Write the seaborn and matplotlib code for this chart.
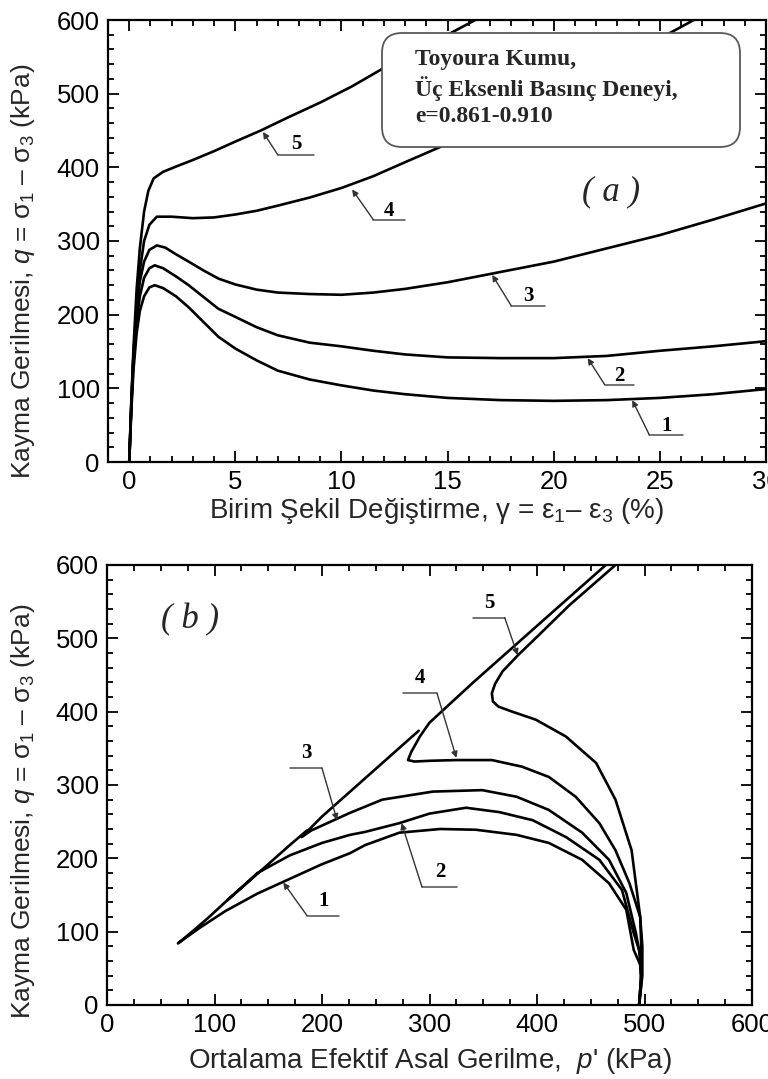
import matplotlib
matplotlib.use('Agg')
import matplotlib.pyplot as plt
import seaborn as sns
import numpy as np
import pandas as pd
from matplotlib.patches import FancyBboxPatch
from matplotlib.ticker import MultipleLocator

# ---------------- data: panel (a) strain (%) vs deviator stress q (kPa)
g1 = [0, 0.1, 0.2, 0.35, 0.5, 0.7, 0.95, 1.2, 1.6, 2.2, 2.8, 3.5, 4.2, 5, 6, 7, 8.5, 10, 11.5, 13, 15, 17.5, 20, 22.5, 25, 27.5, 30]
q1 = [0, 70, 125, 175, 205, 225, 237, 240, 236, 225, 210, 190, 170, 154, 138, 124, 112, 104, 97, 92, 87, 84, 83, 84, 87, 92, 99]
g2 = [0, 0.1, 0.2, 0.35, 0.5, 0.7, 0.95, 1.2, 1.6, 2.2, 2.8, 3.5, 4.2, 5, 6, 7, 8.5, 10, 11.5, 13, 15, 17.5, 20, 22.5, 25, 27.5, 30]
q2 = [0, 75, 135, 190, 225, 250, 263, 267, 263, 252, 240, 224, 208, 197, 183, 172, 162, 157, 151, 146, 142, 141, 141, 144, 151, 157, 164]
g3 = [0, 0.1, 0.2, 0.35, 0.5, 0.7, 0.95, 1.3, 1.7, 2.2, 2.8, 3.5, 4.2, 5, 6, 7, 8.5, 10, 11.5, 13, 15, 17.5, 20, 22.5, 25, 27.5, 30]
q3 = [0, 80, 145, 205, 245, 272, 288, 294, 291, 282, 272, 260, 249, 241, 234, 230, 228, 227, 230, 235, 244, 258, 272, 290, 308, 329, 351]
g4 = [0, 0.1, 0.2, 0.35, 0.5, 0.7, 0.95, 1.3, 2, 3, 4, 5, 6, 7, 8.5, 10, 11.5, 13, 15, 17.5, 20, 22.5, 25, 26.6]
q4 = [0, 80, 145, 215, 260, 300, 322, 333, 333, 331, 332, 336, 341, 348, 359, 372, 388, 407, 432, 465, 500, 537, 575, 600]
g5 = [0, 0.1, 0.2, 0.35, 0.5, 0.7, 0.9, 1.15, 1.6, 2.2, 3, 4, 5, 6.2, 7.5, 9, 10.5, 12, 13.5, 15, 16.3]
q5 = [0, 85, 155, 235, 290, 340, 368, 385, 394, 401, 410, 422, 435, 450, 468, 488, 510, 535, 558, 580, 600]

# ---------------- data: panel (b) effective mean stress p' vs q (kPa)
pb1 = [495, 497, 496, 490, 483, 467, 442, 411, 381, 343, 310, 272, 240, 226, 200, 170, 140, 110, 85, 66, 80, 95, 112]
qb1 = [0, 30, 55, 75, 130, 166, 198, 221, 232, 239, 240, 235, 218, 207, 192, 172, 152, 128, 104, 84, 101, 120, 143]
pb2 = [495, 497, 496, 490, 479, 458, 427, 396, 365, 334, 300, 272, 240, 226, 200, 170, 140, 112, 130, 150, 170, 186]
qb2 = [0, 40, 70, 98, 157, 198, 229, 252, 263, 269, 261, 248, 236, 232, 221, 204, 180, 143, 166, 192, 218, 238]
pb3 = [495, 497, 495, 492, 483, 467, 442, 411, 381, 349, 303, 256, 226, 205, 190, 181, 200, 230, 260, 290]
qb3 = [0, 40, 75, 98, 153, 198, 235, 266, 284, 293, 291, 280, 262, 248, 238, 229, 257, 296, 335, 374]
pb4 = [495, 497, 497, 496, 486, 473, 458, 436, 411, 386, 358, 325, 300, 286, 280, 283, 291, 300, 340, 380, 420, 464]
qb4 = [0, 40, 80, 120, 166, 211, 248, 284, 311, 325, 334, 334, 333, 332, 334, 345, 366, 385, 439, 491, 543, 600]
pb5 = [495, 498, 498, 496, 488, 473, 455, 427, 399, 375, 364, 359, 358, 361, 368, 383, 400, 430, 473]
qb5 = [0, 40, 80, 120, 211, 280, 330, 366, 389, 401, 407, 414, 425, 438, 455, 478, 502, 545, 600]

curve_names = ["1", "2", "3", "4", "5"]

# callouts: (label, arrow tip, corner, other end x of underline, text position)
callouts_a = [
    ("5", (6.3, 448), (7.0, 417), 8.7, (7.85, 432)),
    ("4", (10.5, 370), (11.5, 329), 13.0, (12.25, 341)),
    ("3", (17.1, 254), (18.0, 212), 19.6, (18.8, 225)),
    ("2", (21.6, 141), (22.4, 105), 23.8, (23.1, 117)),
    ("1", (23.7, 84), (24.5, 37), 26.1, (25.3, 49)),
]
callouts_b = [
    ("5", (382, 477), (370, 528), 340, (356, 548)),
    ("4", (325, 337), (307, 425), 275, (291, 446)),
    ("3", (214, 252), (200, 323), 170, (185, 343)),
    ("2", (274, 248), (293, 161), 326, (310, 182)),
    ("1", (164, 167), (186, 122), 216, (201, 142)),
]

box_lines = ["Toyoura Kumu,", "Üç Eksenli Basınç Deneyi,", "e=0.861-0.910"]

# ---------------- style
sns.set_theme(style='ticks')
plt.rcParams['font.family'] = ['Liberation Sans', 'DejaVu Sans']
plt.rcParams['mathtext.fontset'] = 'custom'
plt.rcParams['mathtext.rm'] = 'Liberation Sans'
plt.rcParams['mathtext.it'] = 'Liberation Sans:italic'
plt.rcParams['mathtext.default'] = 'regular'

W, H = 768, 1079
fig = plt.figure(figsize=(W / 100, H / 100), dpi=100)
fig.patch.set_facecolor('white')
ax1 = fig.add_axes([108 / W, 1 - 462 / H, (766 - 108) / W, (462 - 20) / H])
ax2 = fig.add_axes([107 / W, 1 - 1005 / H, (752 - 107) / W, (1005 - 565) / H])

for xs, ys in [(g1, q1), (g2, q2), (g3, q3), (g4, q4), (g5, q5)]:
    sns.lineplot(x=xs, y=ys, sort=False, estimator=None, color='black', lw=1.9, ax=ax1)
for xs, ys in [(pb1, qb1), (pb2, qb2), (pb3, qb3), (pb4, qb4), (pb5, qb5)]:
    sns.lineplot(x=xs, y=ys, sort=False, estimator=None, color='black', lw=1.9, ax=ax2)

ylab = "Kayma Gerilmesi, $\\it{q}$ = σ$_1$ – σ$_3$ (kPa)"
for ax, lx, ly in ((ax1, -0.108, 0.432), (ax2, -0.109, 0.44)):
    ax.set_facecolor('white')
    ax.set_ylim(0, 600)
    ax.yaxis.set_major_locator(MultipleLocator(100))
    ax.yaxis.set_minor_locator(MultipleLocator(20))
    ax.tick_params(which='both', direction='in', top=True, right=True, width=1.3,
                   labelsize=18.5, pad=6, colors='black')
    ax.tick_params(which='major', length=8)
    ax.tick_params(which='minor', length=4)
    for s in ax.spines.values():
        s.set_linewidth(1.6)
        s.set_color('black')
    ax.set_ylabel(ylab, fontsize=19)
    ax.yaxis.set_label_coords(lx, ly)

ax1.set_xlim(-1, 30)
ax1.xaxis.set_major_locator(MultipleLocator(5))
ax1.xaxis.set_minor_locator(MultipleLocator(1))
ax1.set_xlabel("Birim Şekil Değiştirme, γ = ε$_1$– ε$_3$ (%)", fontsize=20, labelpad=1)

ax2.set_xlim(0, 600)
ax2.xaxis.set_major_locator(MultipleLocator(100))
ax2.xaxis.set_minor_locator(MultipleLocator(25))
ax2.set_xlabel("Ortalama Efektif Asal Gerilme,  $\\it{p}$' (kPa)", fontsize=20, labelpad=6)

serif = ['Liberation Serif', 'DejaVu Serif']
for ax, calls in ((ax1, callouts_a), (ax2, callouts_b)):
    for lab, tip, corner, xend, tpos in calls:
        ax.plot([corner[0], xend], [corner[1], corner[1]], color='0.3', lw=1.1)
        ax.annotate('', xy=tip, xytext=corner,
                    arrowprops=dict(arrowstyle='-|>', color='0.2', lw=1.0,
                                    mutation_scale=9, shrinkA=0, shrinkB=0))
        ax.text(tpos[0], tpos[1], lab, family=serif, fontsize=15, fontweight='bold',
                ha='center', va='center', color='black')

ax1.text(22.7, 367, "( a )", family=serif, style='italic', fontsize=25, ha='center', va='center')
ax2.text(77, 525, "( b )", family=serif, style='italic', fontsize=25, ha='center', va='center')

# info box (drawn on top of the curves)
bx0, bx1, by0, by1 = 382, 740, 33, 147
box = FancyBboxPatch((bx0 / W, 1 - by1 / H), (bx1 - bx0) / W, (by1 - by0) / H,
                     boxstyle="round,pad=0,rounding_size=%f" % (20 / W),
                     mutation_aspect=W / H, transform=fig.transFigure,
                     facecolor='white', edgecolor='0.35', lw=1.3, zorder=10, clip_on=False)
ax1.add_patch(box)
for i, line in enumerate(box_lines):
    fig.text(415 / W, 1 - (60 + 28.5 * i) / H, line, family=serif, fontsize=17,
             fontweight='bold', ha='left', va='center', zorder=11)

fig.savefig('out.png', dpi=100, facecolor='white')
